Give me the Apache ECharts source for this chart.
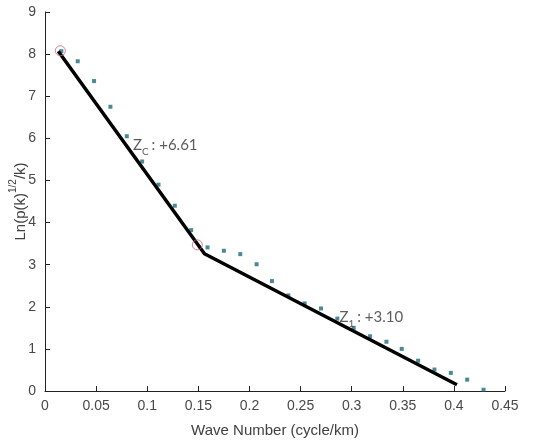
<!DOCTYPE html>
<html>
<head>
<meta charset="utf-8">
<script src="https://cdn.jsdelivr.net/npm/echarts@6/dist/echarts.min.js"></script>
<style>
  html, body { margin: 0; padding: 0; background: #fff; }
  #chart { width: 550px; height: 445px; }
</style>
</head>
<body>
<div id="chart"></div>
<script>
// spectrum points (wave number, ln of power)
const waveNumber = [0.016, 0.032, 0.048, 0.064, 0.080, 0.095, 0.111, 0.127, 0.143, 0.159,
  0.175, 0.191, 0.207, 0.222, 0.238, 0.254, 0.270, 0.286, 0.302, 0.318,
  0.334, 0.349, 0.365, 0.381, 0.397, 0.413, 0.429];
const lnPower = [8.07, 7.83, 7.36, 6.75, 6.05, 5.45, 4.90, 4.40, 3.82, 3.41,
  3.33, 3.25, 3.01, 2.61, 2.27, 2.08, 1.96, 1.72, 1.50, 1.30,
  1.17, 1.00, 0.72, 0.51, 0.43, 0.27, 0.03];

// fitted segments
const fitX = [0.013, 0.156, 0.403];
const fitY = [8.07, 3.26, 0.15];

// break points (red circles)
const breakX = [0.015, 0.149];
const breakY = [8.08, 3.47];

// depth annotations
const depthSub = ['C', '1'];
const depthVal = ['+6.61', '+3.10'];
const depthX = [0.086, 0.288];
const depthY = [5.76, 1.68];

const chart = echarts.init(document.getElementById('chart'));

const axisFont = 'Liberation Sans, Arial, sans-serif';
const noteFont = 'Lato, Carlito, sans-serif';

chart.setOption({
  animation: false,
  grid: { left: 45, right: 45, top: 12, bottom: 54, containLabel: false, outerBoundsMode: 'none' },
  xAxis: {
    type: 'value',
    min: 0, max: 0.45, interval: 0.05,
    splitLine: { show: false },
    axisLine: { lineStyle: { color: '#222', width: 1 } },
    axisTick: { inside: true, length: 5, lineStyle: { color: '#222' } },
    axisLabel: { color: '#484848', fontSize: 14, fontFamily: axisFont, margin: 8 },
    name: 'Wave Number (cycle/km)',
    nameLocation: 'middle',
    nameGap: 32,
    nameTextStyle: { color: '#404040', fontSize: 15, fontFamily: axisFont }
  },
  yAxis: {
    type: 'value',
    min: 0, max: 9, interval: 1,
    splitLine: { show: false },
    axisLine: { show: true, lineStyle: { color: '#222', width: 1 } },
    axisTick: { show: true, inside: true, length: 5, lineStyle: { color: '#222' } },
    axisLabel: { color: '#484848', fontSize: 14, fontFamily: axisFont, margin: 9 },
    name: '{a|Ln(p(k)}{s|1/2}{a|/k)}',
    nameLocation: 'middle',
    nameGap: 17,
    nameMoveOverlap: false,
    nameRotate: 90,
    nameTextStyle: {
      rich: {
        a: { color: '#404040', fontSize: 15, fontFamily: axisFont, verticalAlign: 'bottom', lineHeight: 18 },
        s: { color: '#404040', fontSize: 10, fontFamily: axisFont, verticalAlign: 'bottom', lineHeight: 10, padding: [0, 0, 10, 0] }
      }
    }
  },
  series: [
    {
      type: 'scatter',
      data: waveNumber.map((x, i) => [x, lnPower[i]]),
      symbol: 'rect',
      symbolSize: 4,
      itemStyle: { color: '#1f6c7c' },
      z: 2
    },
    {
      type: 'line',
      data: fitX.map((x, i) => [x, fitY[i]]),
      showSymbol: false,
      lineStyle: { color: '#000', width: 3.5 },
      z: 3
    },
    {
      type: 'scatter',
      data: breakX.map((x, i) => [x, breakY[i]]),
      symbol: 'circle',
      symbolSize: 10,
      itemStyle: { color: 'rgba(0,0,0,0)', borderColor: '#c8607a', borderWidth: 1 },
      z: 4
    },
    {
      type: 'scatter',
      data: depthX.map((x, i) => [x, depthY[i]]),
      symbolSize: 0,
      silent: true,
      label: {
        show: true,
        position: 'right',
        distance: 0,
        formatter: p => '{z|Z}{c|' + depthSub[p.dataIndex] + '}{t|: ' + depthVal[p.dataIndex] + '}',
        rich: {
          z: { color: '#333', fontSize: 15, fontFamily: noteFont, verticalAlign: 'bottom', lineHeight: 17, padding: [0, 0, 4, 0] },
          c: { color: '#333', fontSize: 10, fontFamily: noteFont, verticalAlign: 'bottom', lineHeight: 11, padding: [0, 3, 0, 0] },
          t: { color: '#333', fontSize: 15, fontFamily: noteFont, verticalAlign: 'bottom', lineHeight: 17, padding: [0, 0, 4, 0] }
        }
      },
      z: 5
    }
  ]
});
</script>
</body>
</html>
